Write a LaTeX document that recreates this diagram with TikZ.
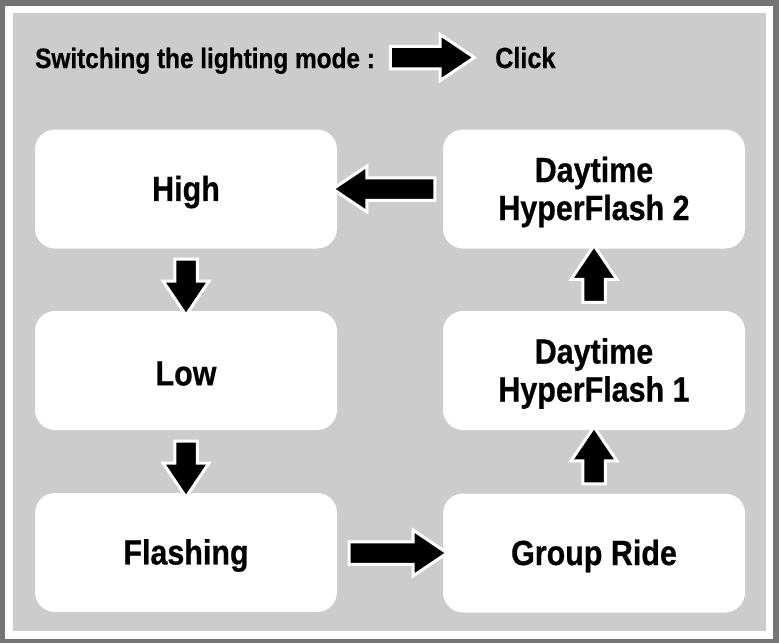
\documentclass[tikz,border=0pt]{standalone}
\usepackage{fontspec}
\setmainfont{Liberation Sans}[FakeStretch=0.87,FakeBold=0.6]
\usetikzlibrary{shapes.arrows}
\definecolor{framegray}{RGB}{115,115,115}
\definecolor{fillgray}{RGB}{203,204,203}
\tikzset{
  modebox/.style={fill=white, rounded corners=20, minimum width=302, minimum height=119,
    inner sep=0},
  boxtext/.style={align=center, inner sep=0, yshift=-3,
    font=\fontsize{35}{38}\selectfont\bfseries},
  blockarrow/.style={single arrow, draw=white, line width=3, fill=black, line join=miter,
    inner xsep=0, inner ysep=9.75, minimum width=43, single arrow head extend=11.75,
    single arrow tip angle=68, single arrow head indent=0},
  titletext/.style={font=\fontsize{28}{30}\selectfont\bfseries, inner sep=0}
}
\begin{document}
\begin{tikzpicture}[x=1pt,y=-1pt]
\useasboundingbox (0,0) rectangle (779,643);
\fill[framegray] (0,0) rectangle (779,643);
\fill[white] (5,6) rectangle (773,639);
\fill[fillgray] (13,13) rectangle (766,631);

\node[titletext, anchor=base west] (title) at (35,68) {Switching the lighting mode :};
\node[blockarrow, minimum height=84, anchor=tip] (clk) at (477,57.5) {};
\node[titletext, anchor=base west] (click) at (495,68) {\fontsize{29}{30}\selectfont Click};

\node[modebox, label={[boxtext]center:High}] (high) at (186,189) {};
\node[modebox, label={[boxtext]center:Low}] (low) at (186,370.5) {};
\node[modebox, label={[boxtext]center:Flashing}] (flash) at (186,552.5) {};
\node[modebox, label={[boxtext]center:Daytime\\HyperFlash 2}] (dt2) at (594,189) {};
\node[modebox, label={[boxtext]center:Daytime\\HyperFlash 1}] (dt1) at (594,370.5) {};
\node[modebox, label={[boxtext]center:Group Ride}] (group) at (594,553) {};

\node[blockarrow, minimum height=102, rotate=180, anchor=tip] (a1) at ([xshift=-7]high.east) {};
\node[blockarrow, minimum height=56, rotate=-90, anchor=tip] (a2) at ([yshift=-7]low.north) {};
\node[blockarrow, minimum height=56, rotate=-90, anchor=tip] (a3) at ([yshift=-7]flash.north) {};
\node[blockarrow, minimum height=98, anchor=tip] (a4) at ([xshift=7]group.west) {};
\node[blockarrow, minimum height=57, rotate=90, anchor=tip] (a5) at ([yshift=6]dt1.south) {};
\node[blockarrow, minimum height=57, rotate=90, anchor=tip] (a6) at ([yshift=6]dt2.south) {};
\end{tikzpicture}
\end{document}
